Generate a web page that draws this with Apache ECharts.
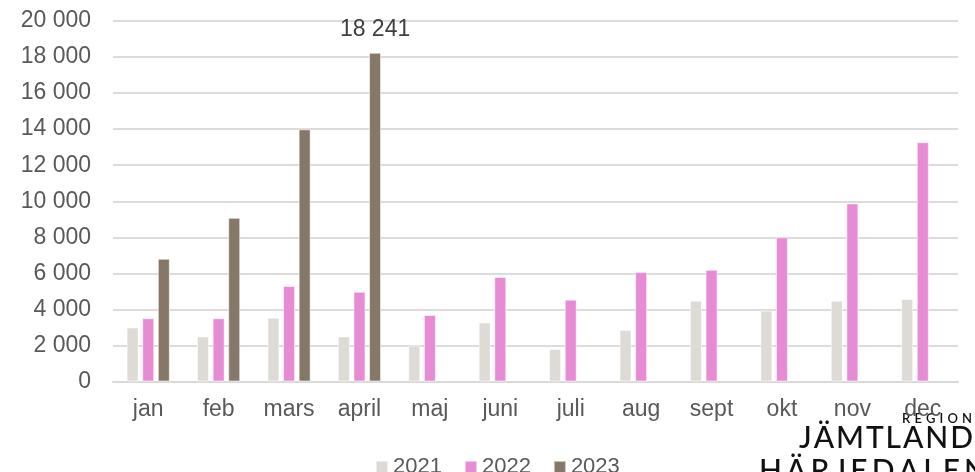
<!DOCTYPE html>
<html>
<head>
<meta charset="utf-8">
<script src="https://cdn.jsdelivr.net/npm/echarts@6/dist/echarts.min.js"></script>
<style>
  html, body { margin: 0; padding: 0; background: #ffffff; }
  #chart { width: 975px; height: 472px; }
</style>
</head>
<body>
<div id="chart"></div>
<script>
// Månader
const months = ['jan', 'feb', 'mars', 'april', 'maj', 'juni', 'juli', 'aug', 'sept', 'okt', 'nov', 'dec'];
const seriesNames = ['2021', '2022', '2023'];

// Antal per månad och år
const values2021 = [3000, 2500, 3540, 2500, 2000, 3280, 1800, 2860, 4480, 3930, 4480, 4580];
const values2022 = [3510, 3510, 5300, 4980, 3690, 5800, 4540, 6070, 6200, 8000, 9880, 13280];
const values2023 = [6810, 9080, 13990, 18241, null, null, null, null, null, null, null, null];

// Y-axelns skala
const yMin = 0;
const yMax = 20000;
const yStep = 2000;

// Värde som skrivs ut över stapeln
const labelledMonth = 'april';
const labelledSeries = '2023';

const colors = ['#dedad6', '#e68bd4', '#857868'];
const textGrey = '#595959';
const fontFam = '"Liberation Sans", Arial, sans-serif';

function fmt(v) {
  return String(Math.round(v)).replace(/\B(?=(\d{3})+(?!\d))/g, ' ');
}

const seriesData = [values2021, values2022, values2023];

const series = seriesNames.map((name, i) => ({
  name: name,
  type: 'bar',
  data: seriesData[i],
  barWidth: 12,
  barGap: '30%',
  itemStyle: { color: colors[i], borderColor: 'rgba(255,255,255,0.55)', borderWidth: 1 },
  label: {
    show: true,
    position: 'top',
    distance: 12,
    color: '#404040',
    fontSize: 23,
    fontFamily: fontFam,
    formatter: (p) => (name === labelledSeries && p.name === labelledMonth) ? fmt(p.value) : ''
  },
  emphasis: { disabled: true }
}));

// Logotyp: bokstäverna sprids ut över en given bredd
const measureCtx = document.createElement('canvas').getContext('2d');
function spacedText(str, font, left, top, width) {
  measureCtx.font = font;
  const chars = str.split('');
  const widths = chars.map(c => measureCtx.measureText(c).width);
  const natural = widths.reduce((a, b) => a + b, 0);
  const gap = chars.length > 1 ? (width - natural) / (chars.length - 1) : 0;
  let x = left;
  return chars.map((c, k) => {
    const el = {
      type: 'text',
      x: x,
      y: top,
      silent: true,
      style: { text: c, font: font, fill: '#111111', verticalAlign: 'top' }
    };
    x += widths[k] + gap;
    return el;
  });
}

const logoFont = '500 30px Lato, "Noto Sans", sans-serif';
const logoGraphics = []
  .concat(spacedText('REGION', '600 13px Lato, "Noto Sans", sans-serif', 902, 412, 70))
  .concat(spacedText('JÄMTLAND', logoFont, 799, 423, 174))
  .concat(spacedText('HÄRJEDALEN', logoFont, 759, 456, 228));

const chart = echarts.init(document.getElementById('chart'), null, { renderer: 'canvas' });
chart.setOption({
  animation: false,
  backgroundColor: '#ffffff',
  textStyle: { fontFamily: fontFam },
  color: colors,
  grid: { left: 113, right: 17, top: 21, bottom: 90.5, containLabel: false },
  legend: {
    data: seriesNames,
    left: 370,
    top: 451,
    icon: 'rect',
    itemWidth: 12,
    itemHeight: 12,
    itemGap: 22,
    textStyle: { color: textGrey, fontSize: 22, fontFamily: fontFam }
  },
  xAxis: {
    type: 'category',
    data: months,
    axisLine: { show: true, lineStyle: { color: '#d9d9d9', width: 2 } },
    axisTick: { show: false },
    axisLabel: { color: textGrey, fontSize: 23, fontFamily: fontFam, margin: 17, interval: 0 }
  },
  yAxis: {
    type: 'value',
    min: yMin,
    max: yMax,
    interval: yStep,
    axisLine: { show: false },
    axisTick: { show: false },
    splitLine: { lineStyle: { color: '#dcdcdc', width: 2 } },
    axisLabel: { color: textGrey, fontSize: 23, fontFamily: fontFam, margin: 22, formatter: fmt }
  },
  series: series,
  graphic: logoGraphics
});
</script>
</body>
</html>
